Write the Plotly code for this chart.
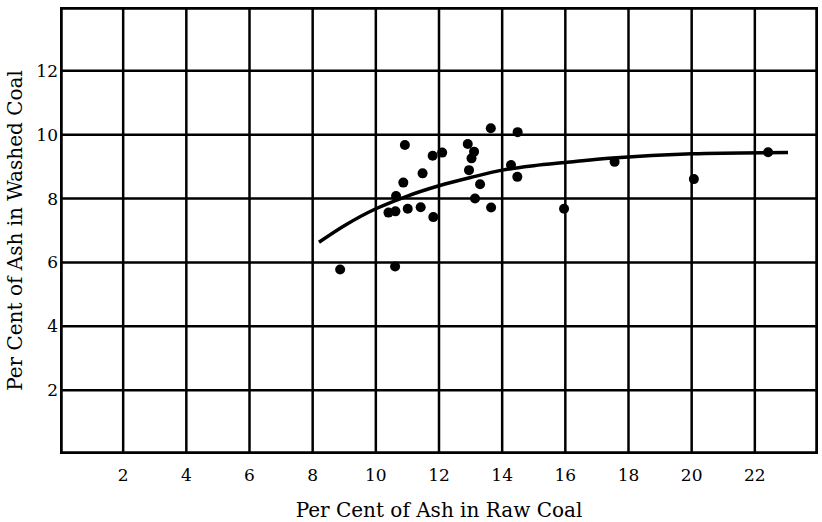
import plotly.graph_objects as go

# Observed points (raw coal ash %, washed coal ash %)
raw_ash = [13.64, 14.49, 10.92, 12.91, 13.11, 11.80, 12.10, 13.03, 11.48, 12.95,
           14.28, 14.48, 10.87, 13.30, 10.64, 13.14, 13.65, 10.40, 10.62, 11.01,
           11.42, 11.82, 8.87, 10.61, 15.96, 17.56, 20.07, 22.42]
washed_ash = [10.20, 10.08, 9.68, 9.71, 9.47, 9.34, 9.44, 9.26, 8.79, 8.89,
              9.05, 8.68, 8.50, 8.45, 8.08, 8.00, 7.72, 7.56, 7.60, 7.68,
              7.73, 7.42, 5.78, 5.87, 7.68, 9.15, 8.61, 9.45]

# Smooth trend curve
curve_x = [8.2, 9.0, 10.0, 11.0, 12.0, 13.0, 14.0, 15.0, 16.0, 17.5, 20.0, 23.05]
curve_y = [6.63, 7.15, 7.68, 8.08, 8.40, 8.66, 8.89, 9.03, 9.13, 9.27, 9.40, 9.44]

x_ticks = [2, 4, 6, 8, 10, 12, 14, 16, 18, 20, 22]
y_ticks = [2, 4, 6, 8, 10, 12]
grid_x = [0, 2, 4, 6, 8, 10, 12, 14, 16, 18, 20, 22, 24]
grid_y = [0, 2, 4, 6, 8, 10, 12, 14]

FONT = "DejaVu Serif"

fig = go.Figure()
fig.add_trace(go.Scatter(x=curve_x, y=curve_y, mode="lines",
                         line=dict(color="black", width=3.5, shape="spline", smoothing=1.0),
                         hoverinfo="skip", showlegend=False))
fig.add_trace(go.Scatter(x=raw_ash, y=washed_ash, mode="markers",
                         marker=dict(color="black", size=10, line=dict(width=0)),
                         showlegend=False))

fig.update_layout(
    width=822, height=522,
    margin=dict(l=60, r=4, t=7, b=68, autoexpand=False),
    paper_bgcolor="white", plot_bgcolor="white",
    font=dict(family=FONT, color="black"),
    xaxis=dict(range=[0, 24], tickvals=x_ticks, ticktext=[str(v) for v in x_ticks],
               showgrid=False, zeroline=False, showline=False, ticks="",
               automargin=False, ticklabelstandoff=9,
               tickfont=dict(size=17, family=FONT),
               title=dict(text="Per Cent of Ash in Raw Coal", font=dict(size=20, family=FONT),
                          standoff=22)),
    yaxis=dict(range=[0, 14], tickvals=y_ticks, ticktext=[str(v) for v in y_ticks],
               showgrid=False, zeroline=False, showline=False, ticks="",
               automargin=False, ticklabelstandoff=1,
               tickfont=dict(size=17, family=FONT),
               title=dict(text="Per Cent of Ash in Washed Coal", font=dict(size=20, family=FONT),
                          standoff=8)),
)

shapes = []
for gx in grid_x[1:-1]:
    shapes.append(dict(type="line", xref="x", yref="y", x0=gx, x1=gx, y0=0, y1=14,
                       line=dict(color="black", width=2.5), layer="below"))
for gy in grid_y[1:-1]:
    shapes.append(dict(type="line", xref="x", yref="y", x0=0, x1=24, y0=gy, y1=gy,
                       line=dict(color="black", width=2.5), layer="below"))
shapes.append(dict(type="rect", xref="x", yref="y", x0=0, x1=24, y0=0, y1=14,
                   line=dict(color="black", width=5.5), layer="above"))
fig.update_layout(shapes=shapes)

fig.write_html("out.html")
